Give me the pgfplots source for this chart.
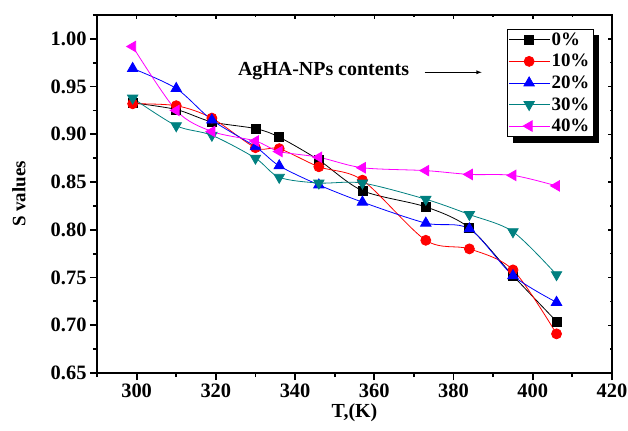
\documentclass[border=0pt]{standalone}
\usepackage{fontspec}
\setmainfont{Liberation Serif}
\usepackage{pgfplots}
\pgfplotsset{compat=1.18}
\pgfdeclarelayer{bg}
\pgfsetlayers{bg,main}

\definecolor{tealc}{RGB}{0,128,128}
\definecolor{magc}{RGB}{255,0,255}

\begin{document}
\begin{tikzpicture}
\begin{axis}[
  name=ax,
  width=515bp, height=358bp, scale only axis,
  xmin=290, xmax=420, ymin=0.65, ymax=1.025,
  xtick={300,320,...,420},
  minor xtick={290,310,...,410},
  ytick={0.65,0.70,...,1.00},
  minor ytick={0.675,0.725,...,1.0},
  xtick pos=bottom, ytick pos=left,
  tick align=outside,
  axis line style={line width=2.2bp},
  major tick style={line width=1.8bp, black},
  minor tick style={line width=1.8bp, black},
  major tick length=7bp, minor tick length=4bp,
  ticklabel style={font=\bfseries\fontsize{20.5}{22}\selectfont},
  /pgf/number format/assume math mode=true,
  yticklabel style={/pgf/number format/.cd, fixed, fixed zerofill, precision=2},
  xticklabel style={/pgf/number format/.cd, fixed, 1000 sep={}},
  every axis y label/.style={at={(rel axis cs:0,0.5)}, xshift=-78bp, rotate=90, anchor=center},
  every axis x label/.style={at={(rel axis cs:0.5,0)}, anchor=center, yshift=-40bp},
  ylabel={\bfseries\fontsize{19}{21}\selectfont S values},
  xlabel={\bfseries\fontsize{20}{22}\selectfont T,(K)},
  every axis plot/.append style={line width=0.8bp, smooth, tension=0.5},
  legend image code/.code={
    \draw[#1, mark repeat=2, mark phase=2] plot coordinates {(0bp,0bp) (20bp,0bp) (40bp,0bp)};},
  legend cell align=left,
  legend style={name=leg, at={(0.796,0.961)}, anchor=north west, draw=black, line width=0.6bp,
    fill=white, font=\bfseries\fontsize{19}{19}\selectfont, row sep=3.5bp, inner sep=1.5bp},
  clip=false,
]
\addplot[black, mark=square*, mark size=4.5bp] coordinates {
  (299,0.933) (310,0.926) (319,0.913) (330,0.906) (336,0.897) (346,0.873)
  (357,0.841) (373,0.824) (384,0.802) (395,0.752) (406,0.704)};
\addlegendentry{0\%}
\addplot[red, mark=*, mark size=5bp] coordinates {
  (299,0.932) (310,0.930) (319,0.917) (330,0.886) (336,0.885) (346,0.866)
  (357,0.852) (373,0.789) (384,0.780) (395,0.758) (406,0.691)};
\addlegendentry{10\%}
\addplot[blue, mark=triangle*, mark size=6bp] coordinates {
  (299,0.969) (310,0.948) (319,0.915) (330,0.887) (336,0.867) (346,0.847)
  (357,0.829) (373,0.807) (384,0.801) (395,0.752) (406,0.724)};
\addlegendentry{20\%}
\addplot[tealc, mark=triangle*, mark options={rotate=180}, mark size=6bp] coordinates {
  (299,0.938) (310,0.909) (319,0.899) (330,0.875) (336,0.855) (346,0.849)
  (357,0.849) (373,0.832) (384,0.816) (395,0.798) (406,0.753)};
\addlegendentry{30\%}
\addplot[magc, mark=triangle*, mark options={rotate=90}, mark size=6bp] coordinates {
  (299,0.992) (310,0.925) (319,0.903) (330,0.893) (336,0.882) (346,0.876)
  (357,0.865) (373,0.862) (384,0.858) (395,0.857) (406,0.846)};
\addlegendentry{40\%}
\node[font=\bfseries\fontsize{20}{22}\selectfont] at (axis cs:347.2,0.966) {AgHA-NPs contents};
\draw[-latex, line width=0.8bp] (axis cs:372.7,0.965) -- (axis cs:387.1,0.965);
\end{axis}
\begin{axis}[
  width=515bp, height=358bp, scale only axis,
  xmin=290, xmax=420, ymin=0.65, ymax=1.025,
  xtick={300,320,...,420},
  minor xtick={290,310,...,410},
  ytick={0.65,0.70,...,1.00},
  minor ytick={0.675,0.725,...,1.0},
  axis x line*=top, axis y line*=right,
  axis line style={line width=2.2bp, -},
  tick align=inside,
  major tick style={line width=1.5bp, black},
  minor tick style={line width=1.5bp, black},
  major tick length=4bp, minor tick length=2.5bp,
  xticklabels={}, yticklabels={},
]
\end{axis}
% legend shadow
\begin{pgfonlayer}{bg}
\fill[black] ([shift={(6bp,-6bp)}]leg.south west) rectangle ([shift={(6bp,-6bp)}]leg.north east);
\end{pgfonlayer}
\pgfresetboundingbox
\path ([shift={(-97bp,-58bp)}]ax.south west) rectangle ([shift={(16bp,15bp)}]ax.north east);
\end{tikzpicture}
\end{document}
